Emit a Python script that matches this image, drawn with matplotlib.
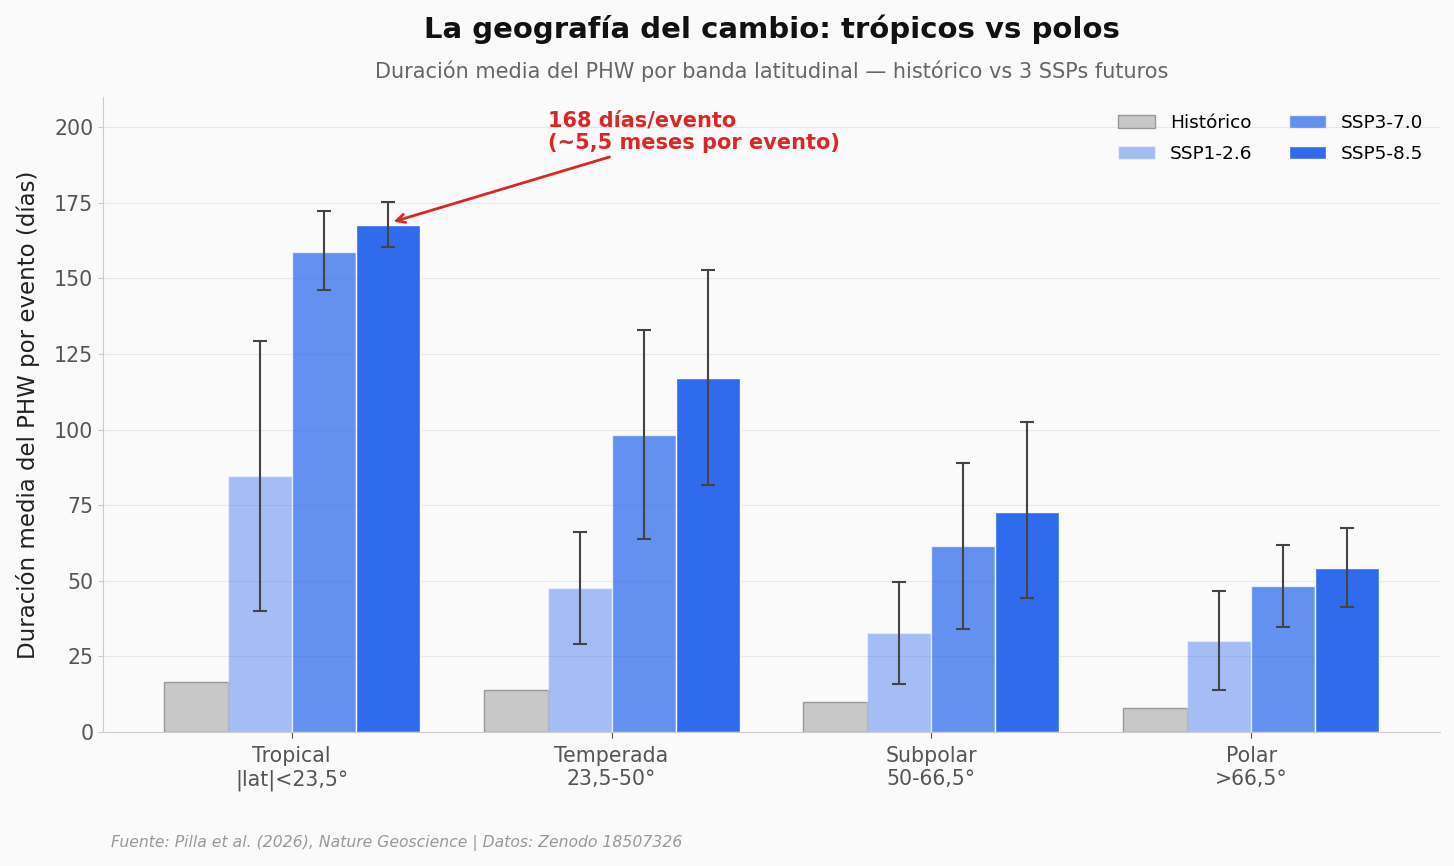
import matplotlib
matplotlib.use("Agg")
import matplotlib.pyplot as plt
import numpy as np

categories = ["Tropical\n|lat|<23,5°", "Temperada\n23,5-50°", "Subpolar\n50-66,5°", "Polar\n>66,5°"]
series = ["Histórico", "SSP1-2.6", "SSP3-7.0", "SSP5-8.5"]
historico = [16.5, 13.9, 9.9, 7.9]
ssp126 = [84.5, 47.5, 32.7, 30.0]
ssp370 = [158.7, 98.3, 61.4, 48.2]
ssp585 = [167.7, 117.2, 72.9, 54.1]
ssp126_low = [39.9, 29.0, 15.8, 13.9]
ssp126_high = [129.4, 66.3, 49.5, 46.5]
ssp370_low = [146.2, 63.7, 34.0, 34.7]
ssp370_high = [172.3, 133.0, 88.8, 61.7]
ssp585_low = [160.4, 81.8, 44.2, 41.3]
ssp585_high = [175.2, 152.8, 102.6, 67.3]

fig = plt.figure(figsize=(14.54, 8.66), dpi=100, facecolor="#fafafa")
ax = fig.add_axes([103/1454, 1-732/866, (1440-103)/1454, (732-97)/866])
ax.set_facecolor("#fafafa")

x = np.arange(len(categories))
w = 0.2
blue = "#2563eb"

ax.bar(x - 1.5*w, historico, w, color="#c8c8c8", edgecolor="#999999", linewidth=1, label=series[0], zorder=2)
vals = [ssp126, ssp370, ssp585]
lows = [ssp126_low, ssp370_low, ssp585_low]
highs = [ssp126_high, ssp370_high, ssp585_high]
alphas = [0.4, 0.7, 0.95]
for i, (v, lo, hi, a) in enumerate(zip(vals, lows, highs, alphas)):
    pos = x + (i - 0.5)*w
    ax.bar(pos, v, w, color=blue, alpha=a, edgecolor="white", linewidth=1, label=series[i+1], zorder=2)
    v = np.array(v); lo = np.array(lo); hi = np.array(hi)
    ax.errorbar(pos, v, yerr=[v - lo, hi - v], fmt="none", ecolor="#444444", elinewidth=1.5, capsize=5, capthick=1.5, zorder=3)

ax.set_xticks(x)
ax.set_xticklabels(categories, fontsize=14.8, color="#555555")
ax.tick_params(axis="y", labelsize=14.8, labelcolor="#555555", color="#cccccc")
ax.tick_params(axis="x", color="#555555", length=4, pad=6)
ax.set_ylim(0, 210)
ax.set_yticks(np.arange(0, 201, 25))
ax.set_ylabel("Duración media del PHW por evento (días)", fontsize=16.5, color="#222222", labelpad=10)
ax.grid(axis="y", color="#e8e8e8", linewidth=0.8, zorder=0)
ax.set_axisbelow(True)
for s in ["top", "right"]:
    ax.spines[s].set_visible(False)
for s in ["left", "bottom"]:
    ax.spines[s].set_color("#cccccc")

ax.legend(loc="upper right", ncol=2, frameon=False, fontsize=13.3, bbox_to_anchor=(1.0, 1.0),
          columnspacing=2.0, labelspacing=0.7)

ax.annotate("168 días/evento\n(~5,5 meses por evento)", xy=(0.31, 168.5), xytext=(0.8, 198.5),
            fontsize=15, fontweight="bold", color="#dc2626", ha="left", va="center",
            arrowprops=dict(arrowstyle="->", color="#dc2626", lw=2))

cx = (103 + 1440) / 2 / 1454
fig.text(cx, 1 - 29/866, "La geografía del cambio: trópicos vs polos", ha="center", va="center",
         fontsize=21, fontweight="bold", color="#111111")
fig.text(cx, 1 - 71/866, "Duración media del PHW por banda latitudinal — histórico vs 3 SSPs futuros",
         ha="center", va="center", fontsize=15, color="#666666")
fig.text(111/1454, 1 - 843/866, "Fuente: Pilla et al. (2026), Nature Geoscience | Datos: Zenodo 18507326",
         ha="left", va="center", fontsize=11.25, style="italic", color="#999999")

fig.savefig("out.png", dpi=100, facecolor="#fafafa")
